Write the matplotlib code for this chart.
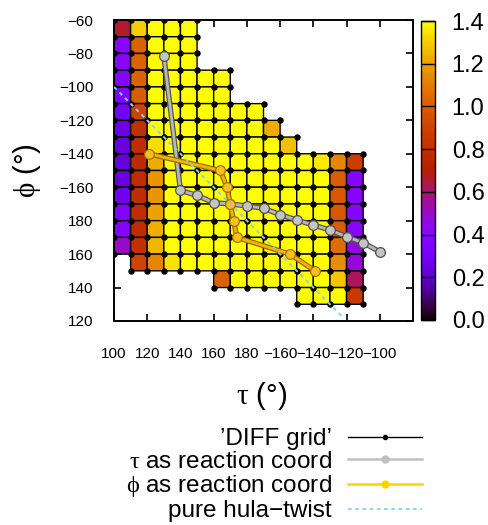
import numpy as np
import matplotlib.pyplot as plt
from matplotlib.lines import Line2D

plt.rcParams['font.family'] = ['Liberation Sans', 'DejaVu Sans']
plt.rcParams['mathtext.fontset'] = 'custom'
plt.rcParams['mathtext.rm'] = 'Liberation Serif'
plt.rcParams['mathtext.it'] = 'Liberation Serif'

# valeurs (Y = saturé, jaune)
Y = 1.45

# lignes de cellules : (phi bord haut, premier tau, valeurs)
cell_rows = [
    (-60, 100, [0.66, 1.30, Y, Y, Y]),
    (-70, 100, [0.39, 1.02, Y, Y, Y]),
    (-80, 100, [0.39, 1.02, Y, Y, Y]),
    (-90, 100, [0.38, 1.02, Y, Y, Y, Y, Y]),
    (-100, 100, [0.33, 1.00, Y, Y, Y, Y, Y]),
    (-110, 100, [0.29, 0.90, Y, Y, Y, Y, Y, Y, Y]),
    (-120, 100, [0.25, 0.80, Y, Y, Y, Y, Y, Y, Y, 1.22]),
    (-130, 100, [0.24, 0.78, 1.33, Y, Y, Y, Y, Y, Y, Y, 1.27]),
    (-140, 100, [0.23, 0.77, 1.22, Y, Y, Y, Y, Y, Y, Y, Y, Y, 1.36, 1.13, 0.88]),
    (-150, 100, [0.24, 0.78, 1.17, Y, Y, Y, Y, Y, Y, Y, Y, Y, Y, 1.00, 0.38]),
    (-160, 100, [0.27, 0.78, 1.17, Y, Y, Y, Y, Y, Y, Y, Y, Y, Y, 0.98, 0.38]),
    (-170, 100, [0.35, 0.78, 1.20, Y, Y, Y, Y, Y, Y, Y, Y, Y, Y, 0.98, 0.38]),
    (-180, 100, [0.37, 0.78, 1.23, Y, Y, Y, Y, Y, Y, Y, Y, Y, Y, 1.00, 0.40]),
    (-190, 100, [0.50, 0.80, 1.25, Y, Y, Y, Y, Y, Y, Y, Y, Y, Y, 1.05, 0.46]),
    (-200, 110, [0.90, 1.13, 1.34, Y, Y, Y, Y, Y, Y, Y, Y, Y, 1.15, 0.48]),
    (-210, 160, [1.02, Y, Y, Y, Y, Y, Y, 1.28, 0.62]),
    (-220, 210, [Y, Y, Y, 0.85]),
]

# chemin tau comme coordonnée de réaction
tau_path_tau = [130, 140, 150, 160, 170, 180, 190, 200, 210, 220, 230, 240, 250, 260]
tau_path_phi = [-81.3, -161.9, -164.9, -169.3, -170.0, -171.2, -172.6, -176.4,
                -179.6, -182.6, -185.6, -189.6, -193.2, -198.6]

# chemin phi comme coordonnée de réaction
phi_path_tau = [121, 164, 168, 170, 172, 174, 206, 221]
phi_path_phi = [-140, -150, -160, -170, -180, -190, -200, -210]

# hula-twist pur
hula_tau = [100, 238]
hula_phi = [-100, -238]

tau_ticks = [100, 120, 140, 160, 180, 200, 220, 240, 260]
tau_labels = ['100', '120', '140', '160', '180', '\u2212160', '\u2212140', '\u2212120', '\u2212100']
phi_ticks = [-60, -80, -100, -120, -140, -160, -180, -200, -220, -240]
phi_labels = ['\u221260', '\u221280', '\u2212100', '\u2212120', '\u2212140', '\u2212160',
              '180', '160', '140', '120']

# grille des cellules
tau_edges = np.arange(100, 260, 10)
phi_edges = np.arange(-60, -240, -10)
Z = np.full((len(phi_edges) - 1, len(tau_edges) - 1), np.nan)
for r, (ptop, t0, vals) in enumerate(cell_rows):
    c0 = (t0 - 100) // 10
    Z[r, c0:c0 + len(vals)] = vals
Z = np.ma.masked_invalid(Z)

# points de la grille DIFF = coins des cellules
pts = set()
for r in range(Z.shape[0]):
    for c in range(Z.shape[1]):
        if not Z.mask[r, c]:
            for dr in (0, 1):
                for dc in (0, 1):
                    pts.add((tau_edges[c + dc], phi_edges[r + dr]))
pts = np.array(sorted(pts))

fig = plt.figure(figsize=(4.88, 5.25), dpi=100)
ax = fig.add_axes([114 / 488, 1 - 321 / 525, 299 / 488, 301 / 525])
cax = fig.add_axes([421 / 488, 1 - 320 / 525, 14 / 488, 299 / 525])

mesh = ax.pcolor(tau_edges, phi_edges, Z, cmap='gnuplot', vmin=0, vmax=1.4,
                 edgecolors='k', linewidth=1.0)
ax.plot(pts[:, 0], pts[:, 1], 'o', color='k', ms=3.6, zorder=3)

ax.plot(tau_path_tau, tau_path_phi, color='#555555', lw=3.8, zorder=4)
ax.plot(tau_path_tau, tau_path_phi, color='#b8b8b8', lw=2.0, marker='o', ms=7,
        mfc='#c4c4c4', mec='#505050', mew=0.9, zorder=4)
ax.plot(phi_path_tau, phi_path_phi, color='#9a6a00', lw=3.8, zorder=5)
ax.plot(phi_path_tau, phi_path_phi, color='#f2b400', lw=2.0, marker='o', ms=7,
        mfc='#f9c020', mec='#a87000', mew=0.9, zorder=5)
ax.plot(hula_tau, hula_phi, color='#87cefa', lw=1.4, ls=(0, (2, 2)), zorder=6)

ax.set_xlim(100, 280)
ax.set_ylim(-240, -60)
ax.set_xticks(tau_ticks, tau_labels)
ax.set_yticks(phi_ticks, phi_labels)
ax.tick_params(direction='in', length=5, width=1.2, top=True, right=True, labelsize=11)
ax.tick_params(axis='x', pad=19)
ax.tick_params(axis='y', pad=15)
for s in ax.spines.values():
    s.set_linewidth(1.4)

ax.set_xlabel(r'$\mathrm{τ}$ (°)', fontsize=21)
ax.xaxis.set_label_coords(0.495, -0.197)
ax.set_ylabel(r'$\mathrm{ϕ}$ (°)', fontsize=21)
ax.yaxis.set_label_coords(-0.237, 0.5)

cb = fig.colorbar(mesh, cax=cax, ticks=np.arange(0, 1.41, 0.2), format='%.1f')
cb.outline.set_linewidth(1.0)
cax.tick_params(direction='in', length=10, width=1, labelsize=17, pad=12)

handles = [
    Line2D([], [], color='k', lw=1, marker='o', ms=3),
    Line2D([], [], color='#c0c0c0', lw=1.8, marker='o', ms=5),
    Line2D([], [], color='#ffd200', lw=1.8, marker='o', ms=5),
    Line2D([], [], color='#87cefa', lw=1.3, ls=(0, (2, 2))),
]
labels = ['\u2019DIFF grid\u2019', r'$\mathrm{τ}$ as reaction coord',
          r'$\mathrm{ϕ}$ as reaction coord', 'pure hula\u2212twist']
fig.legend(handles, labels, loc='upper right', bbox_to_anchor=(422 / 488, 1 - 428 / 525),
           markerfirst=False, frameon=False, fontsize=17.5, handlelength=3.05,
           handletextpad=0.66, labelspacing=0.03, borderpad=0, borderaxespad=0)

fig.savefig('out.png', dpi=100)
